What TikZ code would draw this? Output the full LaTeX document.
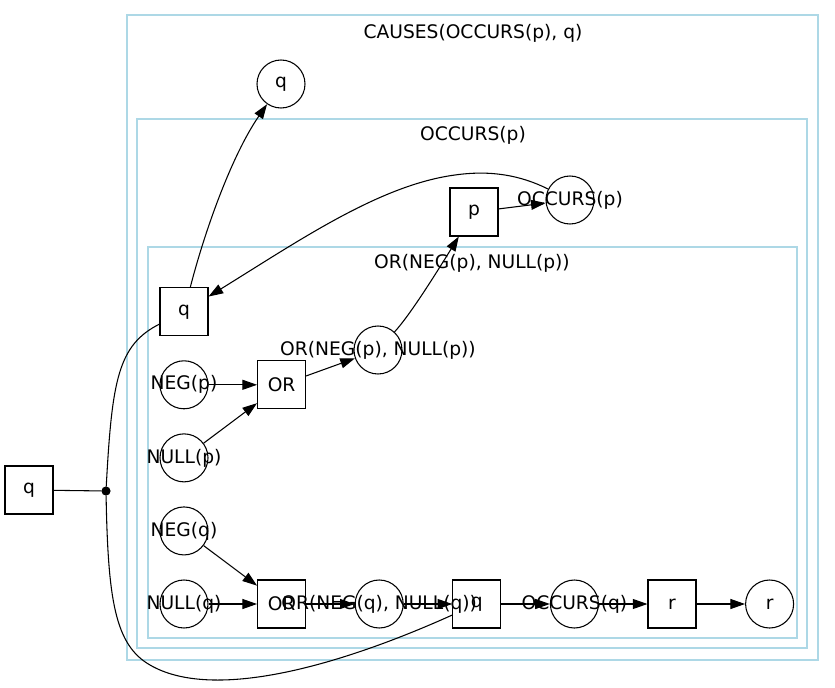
\documentclass[tikz,border=0pt]{standalone}
\usepackage{fontspec}
\setmainfont{DejaVu Sans}
\usetikzlibrary{arrows.meta,positioning}
\definecolor{clusterblue}{RGB}{173,216,230}
\newcommand{\ovl}[1]{\makebox[0pt]{#1}}

\begin{document}
\begin{tikzpicture}[>={Triangle[length=11pt,width=7.5pt]},x=0.75pt,y=-0.75pt,
 font=\fontsize{14}{17}\selectfont,node distance=18pt and 36.4pt,line width=0.8pt,
 box/.style={draw,rectangle,minimum size=36pt,inner sep=0pt},
 circ/.style={draw,circle,minimum size=36pt,inner sep=0pt},
 junc/.style={draw,circle,fill,minimum size=6pt,inner sep=0pt},
 clus/.style={draw=clusterblue}]
\useasboundingbox (0,0) rectangle (835,688);
% clusters
\draw[clus] (127,15) rectangle (818,660);
\draw[clus] (137,119) rectangle (807,648);
\draw[clus] (148,247) rectangle (797,638);
\node (causes) at (473,33) {CAUSES(OCCURS(p), q)};
\node (occlab) at (473,135) {OCCURS(p)};
\node (orlab) at (472,263) {OR(NEG(p), NULL(p))};
% bottom row
\node[circ] (nullq) at (184,604) {\ovl{NULL(q)}};
\node[box,right=of nullq] (orq) {OR};
\node[circ,right=of orq] (orqc) {\ovl{OR(NEG(q), NULL(q))}};
\node[box,right=of orqc] (qb) {q};
\node[circ,right=of qb] (occq) {\ovl{OCCURS(q)}};
\node[box,right=of occq] (rb) {r};
\node[circ,right=of rb] (rc) {r};
% left column
\node[circ,above=of nullq] (negq) {\ovl{NEG(q)}};
\node[circ,above=of negq] (nullp) {\ovl{NULL(p)}};
\node[circ,above=of nullp] (negp) {\ovl{NEG(p)}};
\node[box,right=of negp] (orp) {OR};
\node[box,above=of negp] (qm) {q};
% the rest
\node[circ] (orpc) at (378,350) {\ovl{OR(NEG(p), NULL(p))}};
\node[box] (pb) at (474,212) {p};
\node[circ] (occp) at (570,200) {\ovl{OCCURS(p)}};
\node[circ] (qt) at (281,84) {q};
\node[box] (ql) at (29,490) {q};
\node[junc] (dot) at (106,491) {};
% edges
\draw (ql) -- (dot);
\draw (dot) .. controls (112,380) and (118,345) .. (qm);
\draw (dot) .. controls (108,600) and (115,645) .. (150,665)
 .. controls (210,700) and (330,670) .. (qb);
\draw[->] (qm) .. controls (205,230) and (232,155) .. (qt);
\draw[->] (occp) .. controls (520,175) and (490,170) .. (455,175)
 .. controls (380,185) and (300,240) .. (qm);
\draw[->] (orpc) .. controls (410,315) and (435,275) .. (pb);
\draw[->] (orp) -- (orpc);
\draw[->] (pb) -- (occp);
\draw[->] (negp) -- (orp);
\draw[->] (nullp) -- (orp);
\draw[->] (negq) -- (orq);
\draw[->] (nullq) -- (orq);
\draw[->] (orq) -- (orqc);
\draw[->] (orqc) -- (qb);
\draw[->] (qb) -- (occq);
\draw[->] (occq) -- (rb);
\draw[->] (rb) -- (rc);
\end{tikzpicture}
\end{document}
